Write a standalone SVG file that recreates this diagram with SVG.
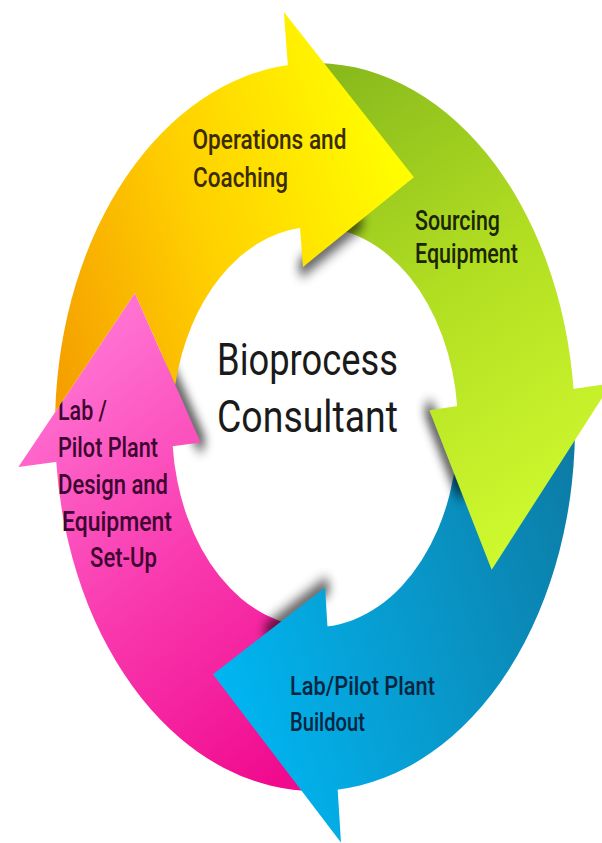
<svg xmlns="http://www.w3.org/2000/svg" width="602" height="843" viewBox="0 0 602 843">
<defs>
<linearGradient id="gY" gradientUnits="userSpaceOnUse" x1="60" y1="271" x2="410" y2="121">
<stop offset="0" stop-color="#F5A000"/><stop offset="0.45" stop-color="#FFD000"/><stop offset="1" stop-color="#FFFF00"/>
</linearGradient>
<linearGradient id="gG" gradientUnits="userSpaceOnUse" x1="330" y1="43" x2="500" y2="400">
<stop offset="0" stop-color="#86B81C"/><stop offset="0.5" stop-color="#B2DE22"/><stop offset="1" stop-color="#CFF92E"/>
</linearGradient>
<linearGradient id="gB" gradientUnits="userSpaceOnUse" x1="580" y1="343" x2="220" y2="500">
<stop offset="0" stop-color="#0C7CA6"/><stop offset="0.5" stop-color="#0899CC"/><stop offset="1" stop-color="#00B6F2"/>
</linearGradient>
<linearGradient id="gP" gradientUnits="userSpaceOnUse" x1="280" y1="557" x2="100" y2="236">
<stop offset="0" stop-color="#F00A8E"/><stop offset="0.5" stop-color="#F93AAF"/><stop offset="1" stop-color="#FF72D2"/>
</linearGradient>
<filter id="sh" x="-50%" y="-50%" width="200%" height="200%"><feGaussianBlur stdDeviation="5"/></filter>
<style>
.lbl{font-family:Roboto,"Liberation Sans",sans-serif;font-size:27px;font-weight:500}
.ctr{font-family:Roboto,"Liberation Sans",sans-serif;font-size:44px;fill:#1a1a1a}
.shadow{fill:none;stroke:#000;stroke-width:10;stroke-linecap:round;opacity:.75;filter:url(#sh)}
</style>
</defs>
<rect width="602" height="843" fill="#fff"/>

<g id="node-design">
<g transform="scale(1 1.4)">
<path fill="url(#gP)" d="M 319.54 564.96 A 260 260 0 0 1 55.99 327.66 L 172.54 317.46 A 143 143 0 0 0 317.50 447.98 Z"/>
<path class="shadow" d="M 200.53 316.02 L 167.7 262.6"/>
<path fill="url(#gP)" d="M 18.37 333.56 L 134.88 209.23 L 200.53 316.02 Z"/>
</g>
<g class="lbl" fill="#3d0530">
<text x="58" y="420" textLength="49" lengthAdjust="spacingAndGlyphs">Lab /</text>
<text x="58" y="457" textLength="100" lengthAdjust="spacingAndGlyphs">Pilot Plant</text>
<text x="58" y="494" textLength="110" lengthAdjust="spacingAndGlyphs">Design and</text>
<text x="62" y="531" textLength="110" lengthAdjust="spacingAndGlyphs">Equipment</text>
<text x="90" y="567" textLength="67" lengthAdjust="spacingAndGlyphs">Set-Up</text>
</g>
</g>

<g id="node-buildout">
<g transform="scale(1 1.4)">
<path fill="url(#gB)" d="M 574.84 295.93 A 260 260 0 0 1 335.40 564.20 L 326.22 447.56 A 143 143 0 0 0 457.91 300.01 Z"/>
<path class="shadow" d="M 325.02 419.56 L 269 450.6"/>
<path fill="url(#gB)" d="M 340.97 601.86 L 213 481.67 L 325.02 419.56 Z"/>
</g>
<g class="lbl" fill="#0a2540" style="font-size:25px">
<text x="290" y="695" textLength="145" lengthAdjust="spacingAndGlyphs">Lab/Pilot Plant</text>
<text x="290" y="731" textLength="75" lengthAdjust="spacingAndGlyphs">Buildout</text>
</g>
</g>

<g id="node-sourcing">
<g transform="scale(1 1.4)">
<path fill="url(#gG)" d="M 305.93 45.16 A 260 260 0 0 1 573.80 280.08 L 457.34 291.29 A 143 143 0 0 0 310.01 162.09 Z"/>
<path class="shadow" d="M 429.37 292.98 L 460.5 350"/>
<path fill="url(#gG)" d="M 611.37 273.85 L 491.67 407 L 429.37 292.98 Z"/>
</g>
<g class="lbl" fill="#1b2600">
<text x="415" y="230" textLength="85" lengthAdjust="spacingAndGlyphs">Sourcing</text>
<text x="415" y="263" textLength="103" lengthAdjust="spacingAndGlyphs">Equipment</text>
</g>
</g>

<g id="node-operations">
<g transform="scale(1 1.4)">
<path fill="url(#gY)" d="M 55.22 294.23 A 260 260 0 0 1 290.08 46.20 L 301.29 162.66 A 143 143 0 0 0 175.22 274.84 L 134.88 209.23 Z"/>
<path class="shadow" d="M 302.98 190.63 L 358.4 158.6"/>
<path fill="url(#gY)" d="M 283.85 8.63 L 413.9 126.58 L 302.98 190.63 Z"/>
</g>
<g class="lbl" fill="#3a2c00">
<text x="192.5" y="149" textLength="154" lengthAdjust="spacingAndGlyphs">Operations and</text>
<text x="193" y="187" textLength="95" lengthAdjust="spacingAndGlyphs">Coaching</text>
</g>
</g>

<g id="node-center">
<text class="ctr" x="217" y="375" textLength="181" lengthAdjust="spacingAndGlyphs">Bioprocess</text>
<text class="ctr" x="217" y="432" textLength="181" lengthAdjust="spacingAndGlyphs">Consultant</text>
</g>

<g id="connectors"/>
</svg>
